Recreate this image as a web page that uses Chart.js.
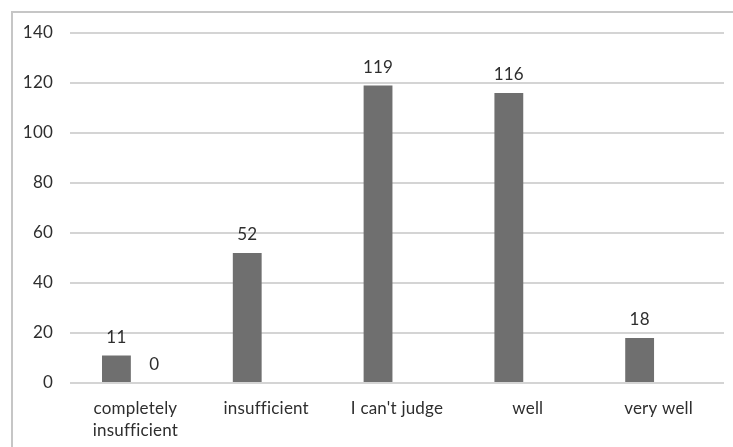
<!DOCTYPE html>
<html>
<head>
<meta charset="utf-8">
<script src="https://cdn.jsdelivr.net/npm/chart.js@4/dist/chart.umd.min.js"></script>
<style>
  html, body { margin: 0; padding: 0; background: #ffffff; }
  #wrap { width: 733px; height: 447px; position: relative; overflow: hidden; }
</style>
</head>
<body>
<div id="wrap"><canvas id="c" width="733" height="447"></canvas></div>
<script>
// Survey answers per rating
const categories = [["completely", "insufficient"], "insufficient", "I can't judge", "well", "very well"];
const seriesA = [11, 52, 119, 116, 18];
const seriesB = [0, null, null, null, null];
const yTicks = [0, 20, 40, 60, 80, 100, 120, 140];

const FONT = "Lato, 'Open Sans', sans-serif";
const TEXT = '#2e2e2e';

// Frame line along the left and top edges; a tiny letter spacing keeps "fi" unligated
const framePlugin = {
  id: 'frame',
  beforeDraw(chart) {
    const ctx = chart.ctx;
    ctx.letterSpacing = '0.2px';
    ctx.save();
    ctx.fillStyle = '#ffffff';
    ctx.fillRect(0, 0, chart.width, chart.height);
    ctx.strokeStyle = '#c6c6c6';
    ctx.lineWidth = 2;
    ctx.beginPath();
    ctx.moveTo(12, chart.height + 5);
    ctx.lineTo(12, 12);
    ctx.lineTo(chart.width + 5, 12);
    ctx.stroke();
    ctx.restore();
  }
};

// Value labels above each bar
const valueLabels = {
  id: 'valueLabels',
  afterDatasetsDraw(chart) {
    const ctx = chart.ctx;
    ctx.save();
    ctx.font = '17px ' + FONT;
    ctx.fillStyle = TEXT;
    ctx.textAlign = 'center';
    ctx.textBaseline = 'alphabetic';
    chart.data.datasets.forEach((ds, i) => {
      const meta = chart.getDatasetMeta(i);
      meta.data.forEach((el, j) => {
        const v = ds.data[j];
        if (v === null || v === undefined) return;
        ctx.fillText(String(v), el.x, el.y - 13);
      });
    });
    ctx.restore();
  }
};

new Chart(document.getElementById('c'), {
  type: 'bar',
  data: {
    labels: categories,
    datasets: [
      { data: seriesA, backgroundColor: '#6f6f6f', categoryPercentage: 0.58, barPercentage: 0.76 },
      { data: seriesB, backgroundColor: '#a5a5a5', categoryPercentage: 0.58, barPercentage: 0.76 }
    ]
  },
  options: {
    responsive: false,
    animation: false,
    devicePixelRatio: 1,
    layout: { padding: { top: 33, right: 9, left: 0, bottom: 0 } },
    plugins: { legend: { display: false }, tooltip: { enabled: false } },
    scales: {
      x: {
        grid: { display: false, drawTicks: false },
        border: { display: false },
        ticks: {
          color: TEXT,
          font: { family: FONT, size: 17, lineHeight: 1.3 },
          padding: 14,
          maxRotation: 0,
          autoSkip: false
        },
        afterFit(scale) { scale.height = 64; }
      },
      y: {
        min: 0,
        max: 140,
        afterBuildTicks(scale) { scale.ticks = yTicks.map(v => ({ value: v })); },
        grid: { color: '#d4d4d4', lineWidth: 2, drawTicks: false },
        border: { display: false },
        ticks: {
          color: TEXT,
          font: { family: FONT, size: 17 },
          padding: 17
        },
        afterFit(scale) { scale.width = 70; }
      }
    }
  },
  plugins: [framePlugin, valueLabels]
});
</script>
</body>
</html>
